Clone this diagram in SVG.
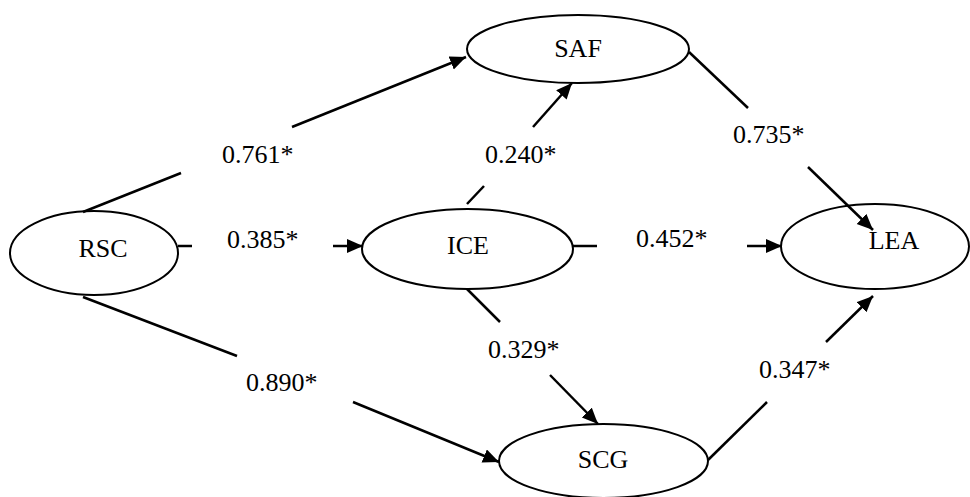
<svg xmlns="http://www.w3.org/2000/svg" width="970" height="497" viewBox="0 0 970 497">
<style>
.node ellipse{fill:#fff;stroke:#000;stroke-width:2}
text{font-family:'Liberation Serif','Times New Roman','DejaVu Serif',serif;font-size:26px;fill:#000}
.node text{text-anchor:middle}
.edges line{stroke:#000;stroke-width:2.5;fill:none}
</style>
<defs>
<marker id="ah" markerUnits="userSpaceOnUse" markerWidth="17" markerHeight="15" refX="16" refY="7" orient="auto">
<path d="M0,0 L16,7 L0,14 z" fill="#000"/>
</marker>
</defs>
<rect width="970" height="497" fill="#fff"/>
<g class="node" id="RSC"><ellipse cx="94" cy="253" rx="84" ry="42"/><text x="103" y="257" font-family="Liberation Serif, serif">RSC</text></g>
<g class="node" id="SAF"><ellipse cx="578" cy="49" rx="111" ry="34"/><text x="578" y="57" font-family="Liberation Serif, serif">SAF</text></g>
<g class="node" id="ICE"><ellipse cx="467.5" cy="249" rx="105.5" ry="40"/><text x="468" y="254" font-family="Liberation Serif, serif">ICE</text></g>
<g class="node" id="LEA"><ellipse cx="875" cy="246.5" rx="94" ry="42.5"/><text x="894" y="249" font-family="Liberation Serif, serif">LEA</text></g>
<g class="node" id="SCG"><ellipse cx="603.5" cy="461" rx="104.5" ry="37"/><text x="603" y="468" font-family="Liberation Serif, serif">SCG</text></g>
<g class="edges">
<line x1="83" y1="212" x2="181" y2="173"/>
<line x1="292" y1="127" x2="466" y2="57" marker-end="url(#ah)"/>
<line x1="178" y1="246" x2="192" y2="246"/>
<line x1="333" y1="246" x2="363" y2="246" marker-end="url(#ah)"/>
<line x1="83" y1="297" x2="237" y2="356"/>
<line x1="353" y1="402" x2="499" y2="462" marker-end="url(#ah)"/>
<line x1="467" y1="204" x2="484" y2="186"/>
<line x1="533" y1="127" x2="572" y2="83" marker-end="url(#ah)"/>
<line x1="573" y1="246" x2="597" y2="246"/>
<line x1="747" y1="246" x2="782" y2="246" marker-end="url(#ah)"/>
<line x1="467" y1="289" x2="500" y2="322"/>
<line x1="550" y1="375" x2="598" y2="424" marker-end="url(#ah)"/>
<line x1="689" y1="52" x2="748" y2="108"/>
<line x1="808" y1="167" x2="873" y2="230" marker-end="url(#ah)"/>
<line x1="708" y1="460" x2="767" y2="402"/>
<line x1="826" y1="342" x2="873" y2="296" marker-end="url(#ah)"/>
<text x="222" y="163" font-family="Liberation Serif, serif">0.761*</text>
<text x="227" y="248" font-family="Liberation Serif, serif">0.385*</text>
<text x="246" y="391" font-family="Liberation Serif, serif">0.890*</text>
<text x="485" y="163" font-family="Liberation Serif, serif">0.240*</text>
<text x="636" y="247" font-family="Liberation Serif, serif">0.452*</text>
<text x="488" y="358" font-family="Liberation Serif, serif">0.329*</text>
<text x="733" y="143" font-family="Liberation Serif, serif">0.735*</text>
<text x="759" y="378" font-family="Liberation Serif, serif">0.347*</text>
</g>
</svg>
